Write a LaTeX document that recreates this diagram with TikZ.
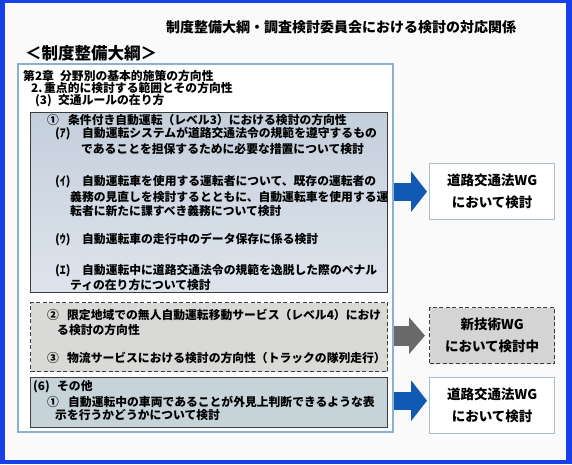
\documentclass[tikz,border=0pt]{standalone}
\usepackage{fontspec}
\setmainfont{Noto Sans CJK JP}
\usetikzlibrary{arrows.meta,calc}
\definecolor{frameblue}{RGB}{22,64,232}
\definecolor{bgc}{RGB}{250,250,250}
\definecolor{outerline}{RGB}{140,175,212}
\definecolor{b1top}{RGB}{196,207,220}
\definecolor{b1bot}{RGB}{222,228,236}
\definecolor{b2fill}{RGB}{217,217,215}
\definecolor{b3fill}{RGB}{198,211,217}
\definecolor{darkline}{RGB}{60,60,60}
\definecolor{rline}{RGB}{170,190,208}
\definecolor{rgray}{RGB}{212,212,212}
\definecolor{arrowblue}{RGB}{16,90,180}
\definecolor{arrowgray}{RGB}{105,105,105}
\newcommand{\lab}[2]{\makebox[#1][l]{#2}}
\tikzset{
  ln/.style={anchor=west, inner sep=0pt, font=\fontsize{11.8}{13}\selectfont\bfseries},
  outerbox/.style={draw=outerline, line width=1.6pt, fill=white, anchor=north west, inner sep=0pt},
  solidbox/.style={draw=darkline, line width=1.4pt, anchor=north west, inner sep=0pt},
  dashbox/.style={draw=darkline, line width=1.2pt, dash pattern=on 4pt off 2.5pt, fill=b2fill, anchor=north west, inner sep=0pt},
  rbox/.style={draw=rline, line width=1.3pt, fill=white, minimum width=125pt, minimum height=56pt, anchor=north west, align=center, font=\fontsize{13.5}{22}\selectfont\bfseries},
  rdash/.style={rbox, draw=darkline, dash pattern=on 4pt off 2.5pt, fill=rgray},
  bluearrow/.style={draw=arrowblue, line width=18pt, -{Triangle[length=16pt,width=40pt]}, shorten <=6pt, shorten >=2pt},
  grayarrow/.style={draw=arrowgray, line width=20pt, -{Triangle[length=16pt,width=36pt]}, shorten <=6pt, shorten >=4pt},
}
\begin{document}
\begin{tikzpicture}[x=1pt,y=-1pt]
\useasboundingbox (0,0) rectangle (572,464);
\fill[frameblue] (0,0) rectangle (572,464);
\fill[bgc] (5,3) rectangle (566,460);

\node[anchor=west, inner sep=0pt, font=\fontsize{14}{16}\selectfont\bfseries] (title) at (166,27) {制度整備大綱・調査検討委員会における検討の対応関係};
\node[anchor=west, inner sep=0pt, font=\fontsize{16.5}{19}\selectfont\bfseries] (head) at (25,53) {＜制度整備大綱＞};

\node[outerbox, minimum width=375pt, minimum height=368pt] (outer) at (17,63) {};
\node[solidbox, top color=b1top, bottom color=b1bot, minimum width=357pt, minimum height=180pt] (b1) at (30,112) {};
\node[dashbox, minimum width=357pt, minimum height=69pt] (b2) at (30,302) {};
\node[solidbox, fill=b3fill, minimum width=357pt, minimum height=50pt] (b3) at (30,377) {};

\node[ln] (h1) at (23,76) {\lab{37pt}{第2章}分野別の基本的施策の方向性};
\node[ln] (h2) at (31,88.5) {\lab{13pt}{2.}重点的に検討する範囲とその方向性};
\node[ln] (h3) at (35,101) {\lab{23pt}{(3)}交通ルールの在り方};

\node[ln] (l1) at (47,120) {\lab{21pt}{①}条件付き自動運転（レベル3）における検討の方向性};
\node[ln] (l2) at (55,134) {\lab{27pt}{(ｱ)}自動運転システムが道路交通法令の規範を遵守するもの};
\node[ln] (l3) at (81,149) {であることを担保するために必要な措置について検討};
\node[ln] (l4) at (55,182) {\lab{27pt}{(ｲ)}自動運転車を使用する運転者について、既存の運転者の};
\node[ln] (l5) at (70,197) {義務の見直しを検討するとともに、自動運転車を使用する運};
\node[ln] (l6) at (70,211) {転者に新たに課すべき義務について検討};
\node[ln] (l7) at (55,240) {\lab{27pt}{(ｳ)}自動運転車の走行中のデータ保存に係る検討};
\node[ln] (l8) at (55,271) {\lab{27pt}{(ｴ)}自動運転中に道路交通法令の規範を逸脱した際のペナル};
\node[ln] (l9) at (70,285) {ティの在り方について検討};

\node[ln] (m1) at (47,315) {\lab{20pt}{②}限定地域での無人自動運転移動サービス（レベル4）におけ};
\node[ln] (m2) at (57,330) {る検討の方向性};
\node[ln] (m3) at (47,358) {\lab{20pt}{③}物流サービスにおける検討の方向性（トラックの隊列走行）};

\node[ln] (n1) at (33,387) {\lab{24pt}{(6)}その他};
\node[ln] (n2) at (47,402) {\lab{21pt}{①}自動運転中の車両であることが外見上判断できるような表};
\node[ln] (n3) at (55,415) {示を行うかどうかについて検討};

\node[rbox] (r1) at (429,163) {道路交通法WG\\において検討};
\node[rdash] (r2) at (429,307) {新技術WG\\において検討中};
\node[rbox] (r3) at (429,377) {道路交通法WG\\において検討};

\draw[bluearrow] (b1.east |- r1.west) -- (r1.west);
\draw[grayarrow] (b2.east |- r2.west) -- (r2.west);
\draw[bluearrow] ([yshift=2pt]b3.east) -- ([yshift=2pt]b3.east -| r3.west);
\end{tikzpicture}
\end{document}
